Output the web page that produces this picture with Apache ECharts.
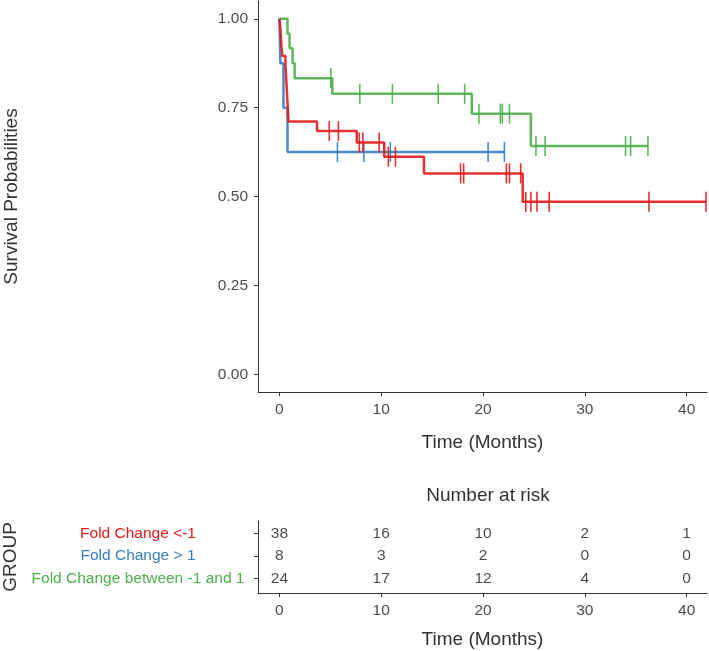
<!DOCTYPE html>
<html>
<head>
<meta charset="utf-8">
<script src="https://cdn.jsdelivr.net/npm/echarts@6/dist/echarts.min.js"></script>
<style>
  html, body { margin: 0; padding: 0; background: #fff; }
  #main { width: 709px; height: 651px; }
</style>
</head>
<body>
<div id="main"></div>
<script>
// groups (Set1 colours as in survminer)
var groupNames = ['Fold Change <-1', 'Fold Change > 1', 'Fold Change between -1 and 1'];
var groupColors = ['#E41A1C', '#377EB8', '#4DAF4A'];

// Kaplan-Meier steps: time (months) and survival after the drop
var redTime = [0, 0.1, 0.15, 0.2, 0.3, 0.6, 0.65, 0.7, 0.75, 0.8, 0.85, 0.9, 3.7, 7.6, 10.3, 14.2, 23.9];
var redSurv = [1, 0.974, 0.947, 0.921, 0.895, 0.868, 0.842, 0.816, 0.789, 0.763, 0.737, 0.711, 0.684, 0.652, 0.612, 0.565, 0.485];
var redEnd = 41.9;
var redCensor = [4.9, 5.8, 7.85, 8.2, 9.8, 10.7, 11.4, 17.8, 18.1, 22.3, 22.6, 23.7, 24.2, 24.7, 25.3, 26.5, 36.3, 41.9];

var blueTime = [0, 0.1, 0.4, 0.8];
var blueSurv = [1, 0.875, 0.75, 0.625];
var blueEnd = 22.1;
var blueCensor = [5.7, 8.3, 10.9, 20.5, 22.1];

var greenTime = [0, 0.8, 1.0, 1.3, 1.5, 5.2, 18.9, 24.7];
var greenSurv = [1, 0.958, 0.917, 0.875, 0.833, 0.789, 0.733, 0.642];
var greenEnd = 36.2;
var greenCensor = [5.05, 7.9, 11.1, 15.6, 18.2, 19.6, 21.7, 21.9, 22.6, 25.2, 26.1, 34.0, 34.5, 36.2];

// number at risk table
var riskTimes = [0, 10, 20, 30, 40];
var redRisk = [38, 16, 10, 2, 1];
var blueRisk = [8, 3, 2, 0, 0];
var greenRisk = [24, 17, 12, 4, 0];

var xTicks = [0, 10, 20, 30, 40];
var yTicks = [0, 0.25, 0.5, 0.75, 1];

var fontFam = '"Liberation Sans", Arial, sans-serif';

function stepData(times, surv, end) {
  var d = [];
  for (var i = 0; i < times.length; i++) d.push([times[i], surv[i]]);
  d.push([end, surv[surv.length - 1]]);
  return d;
}

function survAt(times, surv, t) {
  var s = surv[0];
  for (var i = 0; i < times.length; i++) {
    if (times[i] <= t) s = surv[i];
  }
  return s;
}

function censorData(times, surv, cens) {
  return cens.map(function (t) { return [t, survAt(times, surv, t)]; });
}

var curves = [
  [redTime, redSurv, redEnd, redCensor],
  [blueTime, blueSurv, blueEnd, blueCensor],
  [greenTime, greenSurv, greenEnd, greenCensor]
];
var risks = [redRisk, blueRisk, greenRisk];

var series = [];
curves.forEach(function (c, i) {
  series.push({
    name: groupNames[i],
    type: 'line',
    step: 'end',
    xAxisIndex: 0,
    yAxisIndex: 0,
    showSymbol: false,
    symbol: 'none',
    data: stepData(c[0], c[1], c[2]),
    lineStyle: { color: groupColors[i], width: 2.5, opacity: 0.9 },
    z: 3 - i
  });
  series.push({
    type: 'scatter',
    xAxisIndex: 0,
    yAxisIndex: 0,
    symbol: 'rect',
    symbolSize: [1.6, 20],
    itemStyle: { color: groupColors[i], opacity: 0.9 },
    data: censorData(c[0], c[1], c[3]),
    z: 3 - i
  });
});

// risk numbers, row 3 = top
risks.forEach(function (r, i) {
  series.push({
    type: 'scatter',
    xAxisIndex: 1,
    yAxisIndex: 1,
    symbolSize: 0.1,
    itemStyle: { color: 'transparent' },
    label: {
      show: true,
      position: 'inside',
      color: '#1a1a1a',
      fontSize: 15.5,
      fontFamily: fontFam,
      formatter: function (p) { return p.value[2]; }
    },
    data: riskTimes.map(function (t, k) { return [t, 3 - i, r[k]]; })
  });
});

var lineCol = { color: '#333', width: 1 };

var chart = echarts.init(document.getElementById('main'));
chart.setOption({
  animation: false,
  backgroundColor: '#fff',
  title: {
    text: 'Number at risk',
    left: 483,
    top: 481,
    textAlign: 'center',
    textStyle: { fontSize: 19, fontWeight: 'normal', color: '#333', fontFamily: fontFam }
  },
  grid: [
    { left: 258, right: 2, top: 1, bottom: 259, containLabel: false, outerBoundsMode: 'none' },
    { left: 258, right: 2, top: 521, bottom: 58, containLabel: false, outerBoundsMode: 'none' }
  ],
  xAxis: [
    {
      type: 'value', gridIndex: 0, min: -2.1, max: 42,
      name: 'Time (Months)', nameLocation: 'middle', nameGap: 41,
      nameTextStyle: { fontSize: 19, color: '#333', fontFamily: fontFam },
      axisLine: { onZero: false, lineStyle: lineCol },
      axisTick: { length: 4, lineStyle: lineCol, customValues: xTicks },
      axisLabel: { customValues: xTicks, fontSize: 15.5, color: '#4d4d4d', margin: 10, fontFamily: fontFam },
      splitLine: { show: false }
    },
    {
      type: 'value', gridIndex: 1, min: -2.1, max: 42,
      name: 'Time (Months)', nameLocation: 'middle', nameGap: 37,
      nameTextStyle: { fontSize: 19, color: '#333', fontFamily: fontFam },
      axisLine: { onZero: false, lineStyle: lineCol },
      axisTick: { length: 4, lineStyle: lineCol, customValues: xTicks },
      axisLabel: { customValues: xTicks, fontSize: 15.5, color: '#4d4d4d', margin: 10, fontFamily: fontFam },
      splitLine: { show: false }
    }
  ],
  yAxis: [
    {
      type: 'value', gridIndex: 0, min: -0.05, max: 1.05,
      name: 'Survival Probabilities', nameLocation: 'middle', nameGap: 237,
      nameTextStyle: { fontSize: 19, color: '#333', fontFamily: fontFam },
      axisLine: { show: true, onZero: false, lineStyle: lineCol },
      axisTick: { show: true, length: 4, lineStyle: lineCol, customValues: yTicks },
      axisLabel: {
        customValues: yTicks, fontSize: 15.5, color: '#4d4d4d', margin: 10, fontFamily: fontFam,
        formatter: function (v) { return v.toFixed(2); }
      },
      splitLine: { show: false }
    },
    {
      type: 'value', gridIndex: 1, min: 0.35, max: 3.55,
      name: 'GROUP', nameLocation: 'middle', nameGap: 237,
      nameTextStyle: { fontSize: 19, color: '#333', fontFamily: fontFam },
      axisLine: { show: true, onZero: false, lineStyle: lineCol },
      axisTick: { show: true, length: 4, lineStyle: lineCol, customValues: [1, 2, 3] },
      axisLabel: {
        customValues: [1, 2, 3], margin: 120, align: 'center',
        fontSize: 15.5, fontFamily: fontFam,
        formatter: function (v) { return '{g' + v + '|' + groupNames[3 - v] + '}'; },
        rich: {
          g3: { color: groupColors[0], fontSize: 15.5, fontFamily: fontFam },
          g2: { color: groupColors[1], fontSize: 15.5, fontFamily: fontFam },
          g1: { color: groupColors[2], fontSize: 15.5, fontFamily: fontFam }
        }
      },
      splitLine: { show: false }
    }
  ],
  series: series
});
</script>
</body>
</html>
